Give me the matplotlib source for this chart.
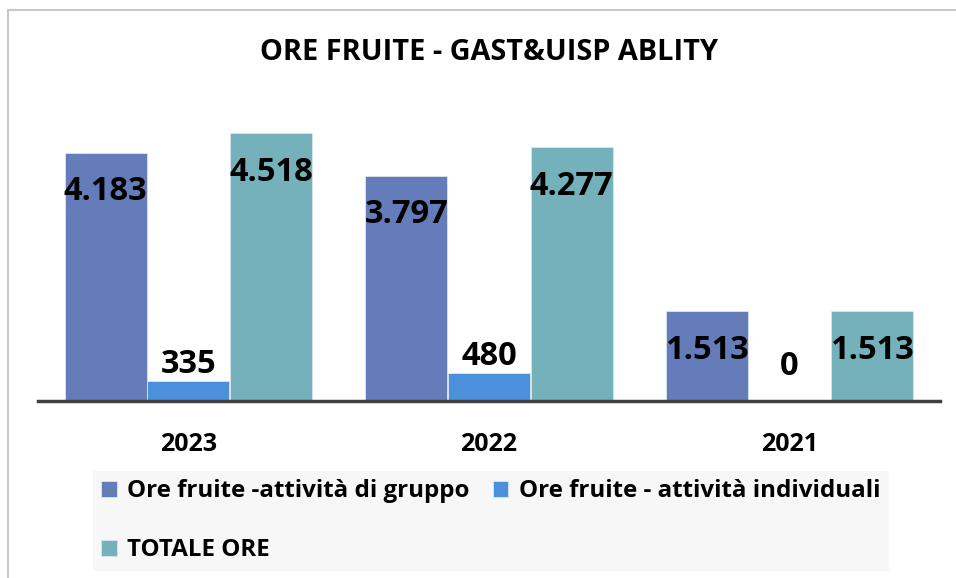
import numpy as np
import matplotlib
matplotlib.use('Agg')
from matplotlib import pyplot as plt
from matplotlib.patches import Rectangle, Patch

# data
years = ['2023', '2022', '2021']
gruppo = [4183, 3797, 1513]
individuali = [335, 480, 0]
totale = [4518, 4277, 1513]
series_names = ['Ore fruite -attività di gruppo', 'Ore fruite - attività individuali', 'TOTALE ORE']
colors = ['#657cba', '#4a90db', '#74b1ba']

plt.rcParams['font.family'] = ['Open Sans', 'DejaVu Sans']
plt.rcParams['font.weight'] = 'bold'

fig = plt.figure(figsize=(9.56, 5.78), dpi=100)
ax = fig.add_axes([38/956, 177/578, 902/956, 296.5/578])

x = np.arange(len(years))
w = 0.272
step = 0.275
all_series = [gruppo, individuali, totale]
for i, vals in enumerate(all_series):
    bars = ax.bar(x + (i - 1) * step, vals, w, color=colors[i], edgecolor='#dce6f2', linewidth=0.6, zorder=2)
    for b, v in zip(bars, vals):
        lab = '{:,}'.format(v).replace(',', '.')
        cx = b.get_x() + b.get_width() / 2
        if v > 1000:
            ax.annotate(lab, (cx, v), xytext=(0, -39), textcoords='offset pixels',
                        ha='center', va='center', fontsize=23.5, fontweight='bold', zorder=3)
        elif v > 0:
            ax.annotate(lab, (cx, v), xytext=(0, 0), textcoords='offset pixels',
                        ha='center', va='bottom', fontsize=23.5, fontweight='bold', zorder=3)
        else:
            ax.annotate(lab, (cx, 0), xytext=(0, 18), textcoords='offset pixels',
                        ha='center', va='bottom', fontsize=23.5, fontweight='bold', zorder=3)

ax.set_xlim(-0.5, 2.5)
ax.set_ylim(0, 5000)
ax.set_yticks([])
ax.set_xticks(x)
ax.set_xticklabels(years, fontsize=18, fontweight='bold')
ax.tick_params(axis='x', length=0, pad=22)
for s in ['top', 'right', 'left']:
    ax.spines[s].set_visible(False)
ax.spines['bottom'].set_color('#404040')
ax.spines['bottom'].set_linewidth(2.5)
ax.spines['bottom'].set_zorder(4)

fig.text(489/956, 1 - 52/578, 'ORE FRUITE - GAST&UISP ABLITY', ha='center', va='center',
         fontsize=20.8, fontweight='bold')

handles = [Patch(facecolor=c, edgecolor='#dce6f2', linewidth=0.6) for c in colors]
order = [0, 2, 1]
leg = fig.legend([handles[k] for k in order], [series_names[k] for k in order], ncol=2,
                 loc='upper left', bbox_to_anchor=(93/956, 1 - 471/578), borderaxespad=0,
                 frameon=True, fancybox=False, facecolor='#f7f7f7', edgecolor='none', framealpha=1,
                 prop={'size': 17.4, 'weight': 'bold'}, handlelength=0.65, handleheight=0.65,
                 handletextpad=0.42, columnspacing=0.95, labelspacing=1.45, borderpad=0.35)

# outer chart border
fig.patches.append(Rectangle((8/956, -0.1), 1.2, 1 - 10/578 + 0.1, transform=fig.transFigure,
                             fill=False, edgecolor='#c8c8c8', linewidth=1.5))

fig.savefig('out.png', dpi=100)
